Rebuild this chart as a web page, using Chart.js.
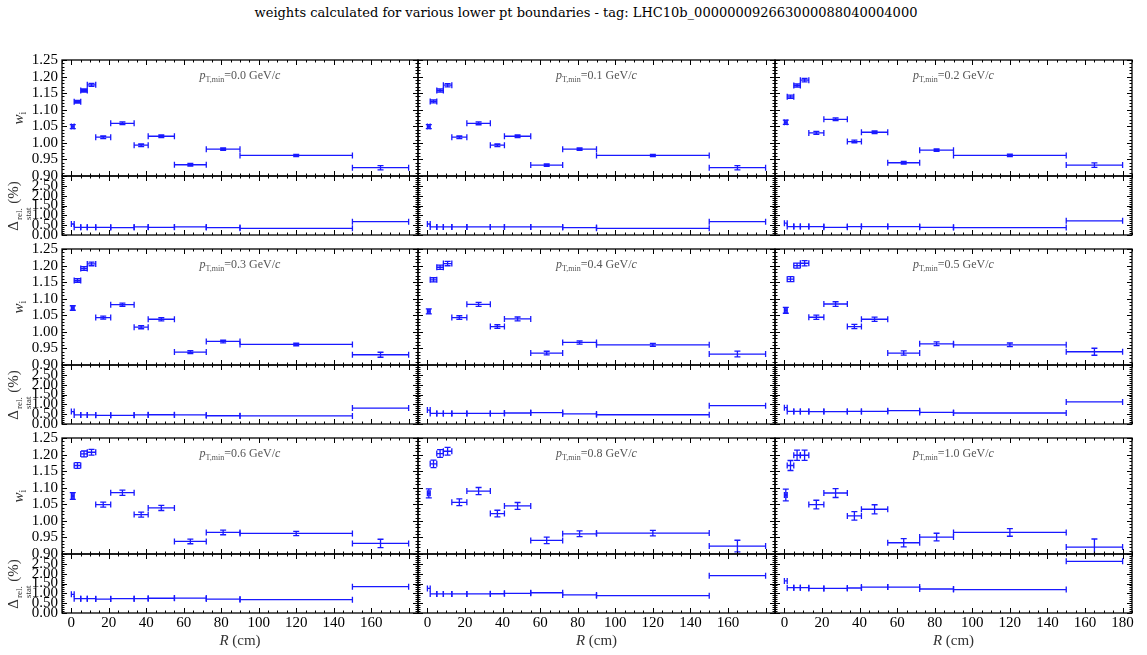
<!DOCTYPE html>
<html>
<head>
<meta charset="utf-8">
<script src="https://cdn.jsdelivr.net/npm/chart.js@4.4.0/dist/chart.umd.min.js"></script>
<style>
  body { margin: 0; background: #fff; }
  #fig { position: relative; width: 1147px; height: 655px; overflow: hidden; font-family: 'Liberation Serif', serif; }
  #fig canvas { position: absolute; }
  .lbl { position: absolute; white-space: nowrap; transform: translate(-50%, -50%); }
  .title { font-family: 'DejaVu Serif', serif; font-size: 13px; color: #000; }
  .note { font-size: 12px; color: #555; }
  .note sub { font-size: 8px; vertical-align: -3px; }
  .ylab { font-size: 15px; color: #333; transform: translate(-50%, -50%) rotate(-90deg); }
  .ylab sub { font-size: 10px; vertical-align: -3px; }
  .stack { display: inline-flex; flex-direction: column; font-size: 9px; line-height: 9px; vertical-align: -4px; margin-left: 1px; }
  .xlab { font-size: 15px; color: #333; }
</style>
</head>
<body>
<div id="fig"></div>
<script>
'use strict';

// R bin edges (cm) and pT,min boundaries
const binEdges = [0, 1.5, 5, 8.5, 13, 21, 33.5, 41, 55, 72, 90, 150, 180];
const ptMinLabels = ['0.0', '0.1', '0.2', '0.3', '0.4', '0.5', '0.6', '0.8', '1.0'];

// weights w_i per R bin
const weights00 = [1.049, 1.124, 1.158, 1.175, 1.017, 1.059, 0.993, 1.020, 0.934, 0.981, 0.962, 0.925];
const weights01 = [1.049, 1.125, 1.158, 1.174, 1.017, 1.059, 0.993, 1.020, 0.933, 0.981, 0.962, 0.925];
const weights02 = [1.062, 1.139, 1.173, 1.189, 1.030, 1.071, 1.004, 1.032, 0.940, 0.978, 0.962, 0.933];
const weights03 = [1.072, 1.155, 1.191, 1.205, 1.043, 1.082, 1.014, 1.038, 0.939, 0.971, 0.962, 0.931];
const weights04 = [1.062, 1.157, 1.195, 1.206, 1.043, 1.083, 1.016, 1.039, 0.936, 0.968, 0.961, 0.933];
const weights05 = [1.065, 1.159, 1.200, 1.207, 1.044, 1.084, 1.016, 1.038, 0.936, 0.964, 0.961, 0.940];
const weights06 = [1.075, 1.167, 1.202, 1.207, 1.049, 1.085, 1.019, 1.039, 0.938, 0.965, 0.962, 0.932];
const weights08 = [1.083, 1.172, 1.203, 1.210, 1.056, 1.090, 1.022, 1.045, 0.941, 0.961, 0.963, 0.924];
const weights10 = [1.078, 1.167, 1.198, 1.198, 1.049, 1.084, 1.015, 1.035, 0.934, 0.951, 0.965, 0.921];

// relative stat. uncertainty (%) per R bin
const statRel00 = [0.56, 0.39, 0.39, 0.39, 0.39, 0.38, 0.41, 0.39, 0.41, 0.38, 0.34, 0.68];
const statRel01 = [0.56, 0.41, 0.41, 0.41, 0.41, 0.41, 0.41, 0.41, 0.41, 0.38, 0.34, 0.68];
const statRel02 = [0.60, 0.43, 0.43, 0.43, 0.43, 0.39, 0.43, 0.43, 0.43, 0.39, 0.38, 0.72];
const statRel03 = [0.63, 0.46, 0.46, 0.46, 0.44, 0.44, 0.46, 0.47, 0.46, 0.42, 0.41, 0.81];
const statRel04 = [0.71, 0.54, 0.54, 0.54, 0.54, 0.54, 0.54, 0.56, 0.58, 0.51, 0.47, 0.93];
const statRel05 = [0.83, 0.64, 0.64, 0.64, 0.63, 0.63, 0.64, 0.64, 0.68, 0.59, 0.56, 1.12];
const statRel06 = [0.95, 0.73, 0.73, 0.73, 0.71, 0.73, 0.73, 0.75, 0.76, 0.71, 0.68, 1.34];
const statRel08 = [1.25, 0.97, 0.97, 0.97, 0.97, 0.97, 0.98, 1.00, 1.03, 0.92, 0.88, 1.90];
const statRel10 = [1.63, 1.29, 1.29, 1.29, 1.25, 1.25, 1.27, 1.32, 1.32, 1.22, 1.19, 2.63];

const allWeights = [weights00, weights01, weights02, weights03, weights04, weights05, weights06, weights08, weights10];
const allStatRel = [statRel00, statRel01, statRel02, statRel03, statRel04, statRel05, statRel06, statRel08, statRel10];

// layout (px)
const colLeft = [62, 418, 775];
const colWidth = [356, 357, 357];
const rowTop = [60, 249, 438];
const topH = 116;
const botH = 59;
const blue = 'rgb(25,25,255)';
const tickFont = { family: 'Liberation Serif', size: 15 };

let fig = document.getElementById('fig');

function addLabel(html, cls, x, y) {
  let d = document.createElement('div');
  d.className = 'lbl ' + cls;
  d.innerHTML = html;
  d.style.left = x + 'px';
  d.style.top = y + 'px';
  fig.appendChild(d);
}

function minorValues(min, max, step) {
  let out = [];
  let k0 = Math.ceil(min / step - 1e-9);
  let k1 = Math.floor(max / step + 1e-9);
  for (let k = k0; k <= k1; k++) out.push(k * step);
  return out;
}

const panelDecor = {
  id: 'panelDecor',
  afterDatasetsDraw(chart, args, opts) {
    let ctx = chart.ctx;
    let a = chart.chartArea;
    let xs = chart.scales.x;
    let ys = chart.scales.y;

    // error bars
    ctx.save();
    ctx.beginPath();
    ctx.rect(a.left, a.top, a.right - a.left, a.bottom - a.top);
    ctx.clip();
    ctx.strokeStyle = blue;
    ctx.lineWidth = 1.3;
    let cap = 3;
    chart.data.datasets[0].data.forEach(p => {
      let x = xs.getPixelForValue(p.x);
      let y = ys.getPixelForValue(p.y);
      let xl = xs.getPixelForValue(p.xl);
      let xh = xs.getPixelForValue(p.xh);
      ctx.beginPath();
      ctx.moveTo(xl, y); ctx.lineTo(xh, y);
      ctx.moveTo(xl, y - cap); ctx.lineTo(xl, y + cap);
      ctx.moveTo(xh, y - cap); ctx.lineTo(xh, y + cap);
      if (p.yl !== undefined) {
        let yl = ys.getPixelForValue(p.yl);
        let yh = ys.getPixelForValue(p.yh);
        ctx.moveTo(x, yl); ctx.lineTo(x, yh);
        ctx.moveTo(x - cap, yl); ctx.lineTo(x + cap, yl);
        ctx.moveTo(x - cap, yh); ctx.lineTo(x + cap, yh);
      }
      ctx.stroke();
    });
    ctx.restore();

    // inward ticks on all four sides
    ctx.save();
    ctx.strokeStyle = '#000';
    ctx.lineWidth = 1;
    ctx.beginPath();
    let xMajor = xs.ticks.map(t => t.value);
    let yMajor = ys.ticks.map(t => t.value);
    minorValues(xs.min, xs.max, opts.xMinor).forEach(v => {
      let len = xMajor.some(m => Math.abs(m - v) < 1e-6) ? 5 : 2.5;
      let px = Math.round(xs.getPixelForValue(v)) + 0.5;
      ctx.moveTo(px, a.bottom); ctx.lineTo(px, a.bottom - len);
      ctx.moveTo(px, a.top); ctx.lineTo(px, a.top + len);
    });
    minorValues(ys.min, ys.max, opts.yMinor).forEach(v => {
      let len = yMajor.some(m => Math.abs(m - v) < 1e-6) ? 5 : 2.5;
      let py = Math.round(ys.getPixelForValue(v)) + 0.5;
      ctx.moveTo(a.left, py); ctx.lineTo(a.left + len, py);
      ctx.moveTo(a.right, py); ctx.lineTo(a.right - len, py);
    });
    ctx.stroke();
    ctx.lineWidth = 1.3;
    ctx.strokeRect(a.left, a.top, a.right - a.left, a.bottom - a.top);
    ctx.restore();
  }
};

function makeChart(left, top, w, h, pads, points, yCfg, xLabels, col) {
  let canvas = document.createElement('canvas');
  canvas.width = w + pads.l + pads.r;
  canvas.height = h + pads.t + pads.b;
  canvas.style.left = (left - pads.l) + 'px';
  canvas.style.top = (top - pads.t) + 'px';
  fig.appendChild(canvas);

  new Chart(canvas, {
    type: 'scatter',
    data: { datasets: [{ data: points, pointRadius: 0, showLine: false }] },
    options: {
      responsive: false,
      animation: false,
      events: [],
      layout: { padding: { top: pads.t, right: pads.r, left: 0, bottom: 0 } },
      plugins: {
        legend: { display: false },
        tooltip: { enabled: false },
        panelDecor: { xMinor: 5, yMinor: yCfg.minor }
      },
      scales: {
        x: {
          type: 'linear', position: 'bottom', min: -5, max: 185,
          grid: { display: false, drawTicks: false }, border: { display: false },
          ticks: {
            display: xLabels, stepSize: 20, includeBounds: false, autoSkip: false,
            maxRotation: 0, padding: 1, color: '#000', font: tickFont,
            callback: v => (col < 2 && v === 180) ? '' : String(v)
          },
          afterFit: s => { s.height = pads.b; }
        },
        y: {
          type: 'linear', position: 'left', min: yCfg.min, max: yCfg.max,
          grid: { display: false, drawTicks: false }, border: { display: false },
          ticks: {
            display: col === 0, stepSize: yCfg.step, includeBounds: false, autoSkip: false,
            padding: 4, color: '#000', font: tickFont,
            callback: v => (v > yCfg.hideAbove) ? '' : v.toFixed(2)
          },
          afterFit: s => { s.width = pads.l; }
        }
      }
    },
    plugins: [panelDecor]
  });
}

const weightAxis = { min: 0.90, max: 1.25, step: 0.05, minor: 0.01, hideAbove: 9 };
const statAxis = { min: 0, max: 3, step: 0.5, minor: 0.1, hideAbove: 2.9 };

for (let i = 0; i < 9; i++) {
  let row = Math.floor(i / 3);
  let col = i % 3;
  let w = allWeights[i];
  let d = allStatRel[i];

  let wPts = w.map((v, k) => ({
    x: (binEdges[k] + binEdges[k + 1]) / 2, y: v,
    xl: binEdges[k], xh: binEdges[k + 1],
    yl: v * (1 - d[k] / 100), yh: v * (1 + d[k] / 100)
  }));
  let dPts = d.map((v, k) => ({
    x: (binEdges[k] + binEdges[k + 1]) / 2, y: v,
    xl: binEdges[k], xh: binEdges[k + 1]
  }));

  let pl = col === 0 ? colLeft[0] : 10;
  let lastRow = row === 2;
  makeChart(colLeft[col], rowTop[row], colWidth[col], topH,
    { l: pl, r: 10, t: 16, b: 16 }, wPts, weightAxis, false, col);
  makeChart(colLeft[col], rowTop[row] + topH, colWidth[col], botH,
    { l: pl, r: 10, t: 16, b: lastRow ? 40 : 16 }, dPts, statAxis, lastRow, col);

  let cx = colLeft[col] + colWidth[col] / 2;
  addLabel('<i>p</i><sub>T,min</sub>=' + ptMinLabels[i] + ' GeV/<i>c</i>', 'note', cx, rowTop[row] + 16);
  if (col === 0) {
    addLabel('<i>w</i><sub>i</sub>', 'ylab', 19, rowTop[row] + topH / 2);
    addLabel('&Delta;<span class="stack"><span>rel.</span><span>stat</span></span> (%)', 'ylab', 19, rowTop[row] + topH + botH / 2);
  }
  if (lastRow) {
    addLabel('<i>R</i> (cm)', 'xlab', cx, 640);
  }
}

addLabel('weights calculated for various lower pt boundaries - tag: LHC10b_000000092663000088040004000', 'title', 586, 12);
</script>
</body>
</html>
